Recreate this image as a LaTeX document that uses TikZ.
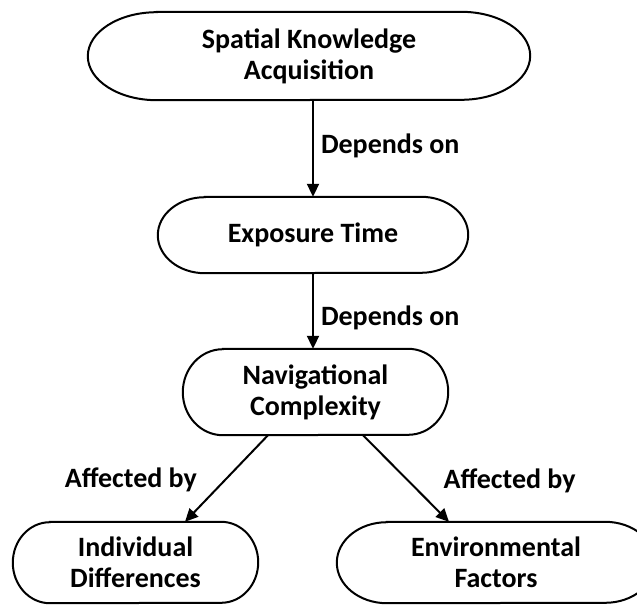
\documentclass[tikz,border=0pt]{standalone}
\usepackage{fontspec}
\setmainfont{Carlito}
\usetikzlibrary{arrows.meta}
\begin{document}
\begin{tikzpicture}[x=1pt, y=1pt,
    capsule/.style={align=center, inner sep=0pt, font=\bfseries\fontsize{28}{31}\selectfont},
    outline/.style={line width=2pt},
    link/.style={line width=2pt, -{Triangle[length=13pt, width=12pt]}},
    tag/.style={inner sep=2pt, font=\bfseries\fontsize{28}{31}\selectfont}]
    \useasboundingbox (0,0) rectangle (637,-605);
    \node[capsule, minimum width=442pt, minimum height=88pt] (ska) at (309,-56) {Spatial Knowledge\\Acquisition};
    \node[capsule, minimum width=310pt, minimum height=76pt] (exp) at (313,-235) {Exposure Time};
    \node[capsule, minimum width=265pt, minimum height=86pt] (nav) at (315.5,-392) {Navigational\\Complexity};
    \node[capsule, minimum width=245pt, minimum height=81pt] (ind) at (135.5,-562.5) {Individual\\Differences};
    \node[capsule, minimum width=318pt, minimum height=81pt] (env) at (496,-562.5) {Environmental\\Factors};
    % rounded ends
    \foreach \n/\rx/\ry in {ska/69/44, exp/47/38, nav/40/43, ind/37/40.5, env/50/40.5}
        \draw[outline] ([xshift=\rx]\n.north west) -- ([xshift=-\rx]\n.north east)
            arc[start angle=90, end angle=-90, x radius=\rx, y radius=\ry]
            -- ([xshift=\rx]\n.south west)
            arc[start angle=270, end angle=90, x radius=\rx, y radius=\ry] -- cycle;
    \draw[link] (ska.south -| exp.north) -- (exp.north) node[tag, pos=0.47, right=5pt] {Depends on};
    \draw[link] (exp.south) -- (exp.south |- nav.north) node[tag, pos=0.59, right=5pt] {Depends on};
    \draw[link] ([xshift=-47.5]nav.south) -- ([xshift=49.5]ind.north) node[tag, pos=0.52, left=25pt] {Affected by};
    \draw[link] ([xshift=47.5]nav.south) -- ([xshift=-47]env.north) node[tag, pos=0.53, right=32pt] {Affected by};
\end{tikzpicture}
\end{document}
